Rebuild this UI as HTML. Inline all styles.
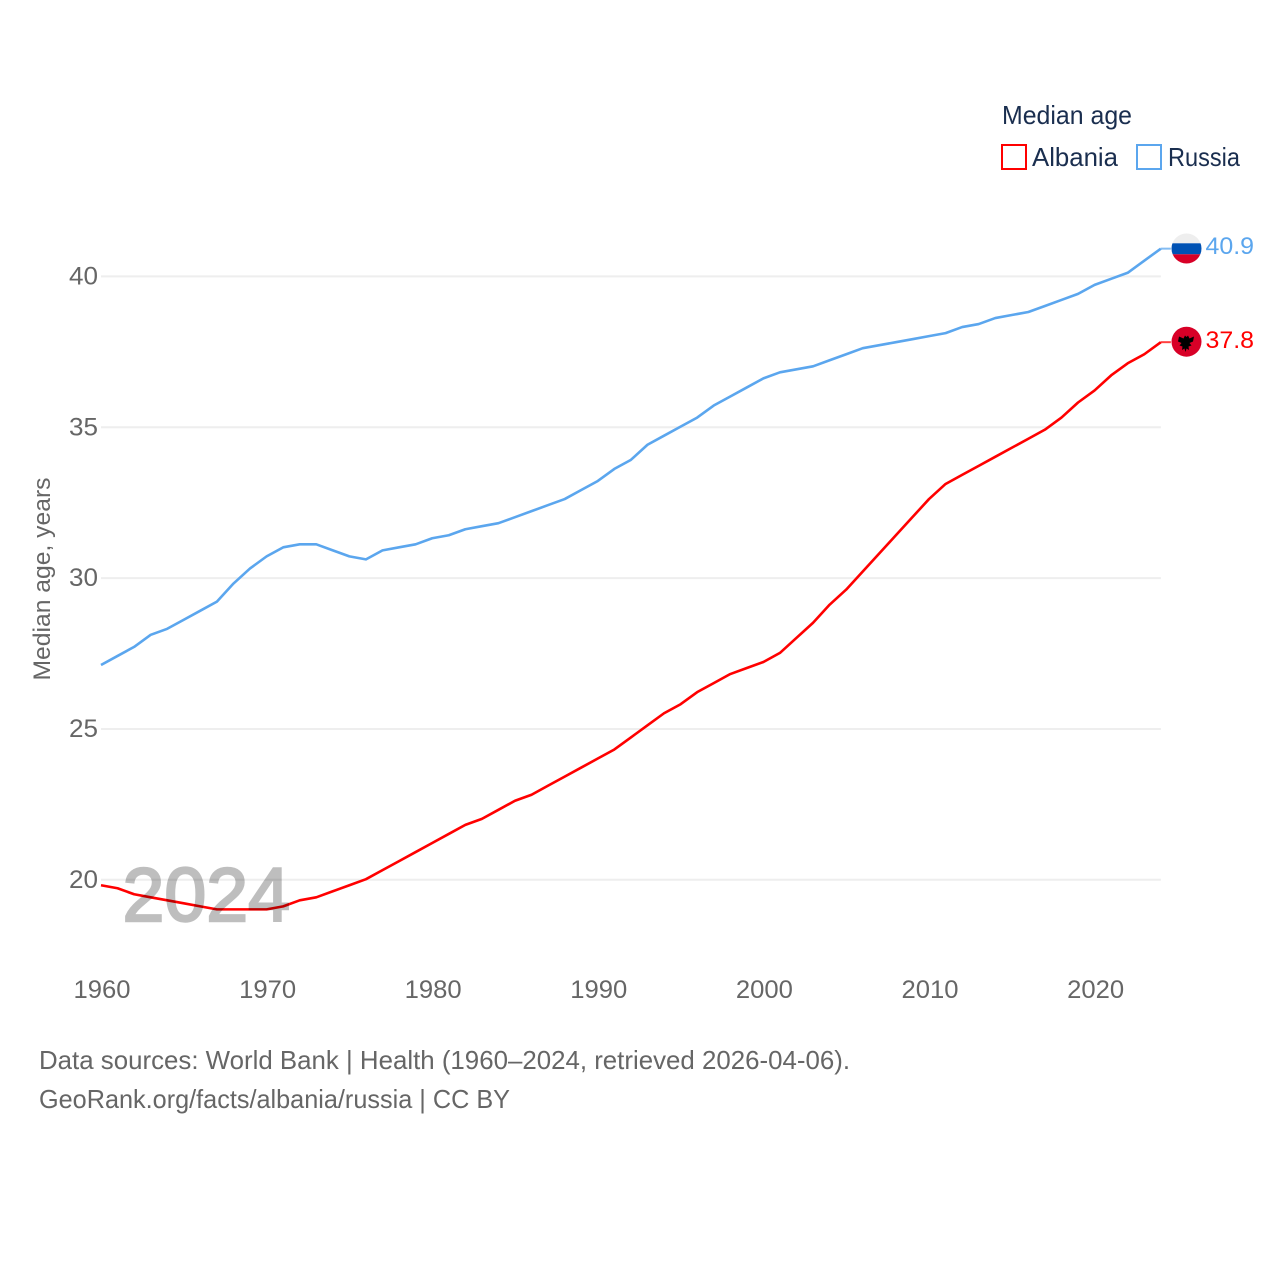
<!DOCTYPE html>
<html>
<head>
<meta charset="utf-8">
<title>Median age: Albania vs Russia</title>
<style>
html,body{margin:0;padding:0;background:#fff;}
svg{display:block;}
text{font-family:"Liberation Sans",sans-serif;}
</style>
</head>
<body>
<svg id="chart" xmlns="http://www.w3.org/2000/svg" width="1280" height="1280" viewBox="0 0 1280 1280">
  <defs>
    <clipPath id="clip-ru"><circle cx="1186.5" cy="248.5" r="15"/></clipPath>
    <clipPath id="clip-al"><circle cx="1186.5" cy="341.7" r="15"/></clipPath>
  </defs>
  <rect width="1280" height="1280" fill="#fff"/>
  <g id="grid"></g>
  <g id="y-ticks"></g>
  <g id="x-ticks"></g>
  <text transform="translate(50,579) rotate(-90)" text-anchor="middle" font-size="24" fill="#666" textLength="203" lengthAdjust="spacingAndGlyphs">Median age, years</text>
  <g id="series"></g>
  <text x="122.500" y="921" font-size="76" font-weight="400" fill="#000" stroke="#000" stroke-width="2.400" opacity="0.25" textLength="167.500" lengthAdjust="spacingAndGlyphs">2024</text>

  <g clip-path="url(#clip-ru)">
    <rect x="1170" y="232" width="33" height="11.300" fill="#eeeeee"/>
    <rect x="1170" y="243.300" width="33" height="11" fill="#0052b4"/>
    <rect x="1170" y="254.300" width="33" height="11" fill="#d80027"/>
  </g>
  <g>
    <circle cx="1186.500" cy="341.700" r="15" fill="#d80027"/>
    <path d="M1179 336.500l4.500 2 1.500-3 1.500 1.500 1.500-1.500 1.500 3 4.500-2-1 5-3.500 1.500 2 2.500-3 1 .5 3.500-2.500-1.500-1 3.500-1-3.500-2.500 1.500 .5-3.500-3-1 2-2.500-3.500-1.500z" fill="#000"/>
  </g>
  <text id="label-ru" x="1205.500" y="254" font-size="24" fill="#5ba6ee" textLength="48.500" lengthAdjust="spacingAndGlyphs">40.9</text>
  <text id="label-al" x="1205.500" y="348" font-size="24" fill="#ff0000" textLength="48.500" lengthAdjust="spacingAndGlyphs">37.8</text>

  <g>
    <text x="1002" y="124" font-size="26" fill="#1a2e4f" textLength="130" lengthAdjust="spacingAndGlyphs">Median age</text>
    <rect x="1002" y="145" width="24" height="24" fill="#fff" stroke="#ff0000" stroke-width="2"/>
    <text x="1032" y="166" font-size="26" fill="#1a2e4f" textLength="86" lengthAdjust="spacingAndGlyphs">Albania</text>
    <rect x="1137" y="145" width="24" height="24" fill="#fff" stroke="#5ba6ee" stroke-width="2"/>
    <text x="1168" y="166" font-size="26" fill="#1a2e4f" textLength="72" lengthAdjust="spacingAndGlyphs">Russia</text>
  </g>

  <g>
    <text x="39" y="1069" font-size="26" fill="#666" textLength="811" lengthAdjust="spacingAndGlyphs">Data sources: World Bank | Health (1960–2024, retrieved 2026-04-06).</text>
    <text x="39" y="1108" font-size="26" fill="#666" textLength="471" lengthAdjust="spacingAndGlyphs">GeoRank.org/facts/albania/russia | CC BY</text>
  </g>
</svg>
<script>
const years = [1960,1961,1962,1963,1964,1965,1966,1967,1968,1969,1970,1971,1972,1973,1974,1975,1976,1977,1978,1979,1980,1981,1982,1983,1984,1985,1986,1987,1988,1989,1990,1991,1992,1993,1994,1995,1996,1997,1998,1999,2000,2001,2002,2003,2004,2005,2006,2007,2008,2009,2010,2011,2012,2013,2014,2015,2016,2017,2018,2019,2020,2021,2022,2023,2024];
const russia = [27.1,27.4,27.7,28.1,28.3,28.6,28.9,29.2,29.8,30.3,30.7,31.0,31.1,31.1,30.9,30.7,30.6,30.9,31.0,31.1,31.3,31.4,31.6,31.7,31.8,32.0,32.2,32.4,32.6,32.9,33.2,33.6,33.9,34.4,34.7,35.0,35.3,35.7,36.0,36.3,36.6,36.8,36.9,37.0,37.2,37.4,37.6,37.7,37.8,37.9,38.0,38.1,38.3,38.4,38.6,38.7,38.8,39.0,39.2,39.4,39.7,39.9,40.1,40.5,40.9];
const albania = [19.8,19.7,19.5,19.4,19.3,19.2,19.1,19.0,19.0,19.0,19.0,19.1,19.3,19.4,19.6,19.8,20.0,20.3,20.6,20.9,21.2,21.5,21.8,22.0,22.3,22.6,22.8,23.1,23.4,23.7,24.0,24.3,24.7,25.1,25.5,25.8,26.2,26.5,26.8,27.0,27.2,27.5,28.0,28.5,29.1,29.6,30.2,30.8,31.4,32.0,32.6,33.1,33.4,33.7,34.0,34.3,34.6,34.9,35.3,35.8,36.2,36.7,37.1,37.4,37.8];
const yTickValues = [20,25,30,35,40];
const xTickValues = [1960,1970,1980,1990,2000,2010,2020];

const NS = 'http://www.w3.org/2000/svg';
function xScale(year){ return 101 + (year - 1960) * 16.56; }
function yScale(value){ return 879.8 - (value - 20) * 30.17; }

const grid = document.getElementById('grid');
const yTicks = document.getElementById('y-ticks');
const xTicks = document.getElementById('x-ticks');
const seriesGroup = document.getElementById('series');

yTickValues.forEach(function(v){
  const line = document.createElementNS(NS, 'line');
  
  
  line.setAttribute('x1', xScale(1960));
  line.setAttribute('x2', xScale(2024));
  line.setAttribute('y1', yScale(v));
  line.setAttribute('y2', yScale(v));
  line.setAttribute('stroke', '#eeeeee');
  line.setAttribute('stroke-width', '2');
  grid.appendChild(line);
  const t = document.createElementNS(NS, 'text');
  
  
  t.setAttribute('x', 98);
  t.setAttribute('y', yScale(v) + 8);
  t.setAttribute('text-anchor', 'end');
  t.setAttribute('font-size', '25');
  t.setAttribute('fill', '#666');
  t.setAttribute('textLength', '29');
  t.setAttribute('lengthAdjust', 'spacingAndGlyphs');
  t.textContent = v;
  yTicks.appendChild(t);
});

xTickValues.forEach(function(v){
  const t = document.createElementNS(NS, 'text');
  
  
  t.setAttribute('x', xScale(v) + 1);
  t.setAttribute('y', 998);
  t.setAttribute('text-anchor', 'middle');
  t.setAttribute('font-size', '25');
  t.setAttribute('fill', '#666');
  t.setAttribute('textLength', '57');
  t.setAttribute('lengthAdjust', 'spacingAndGlyphs');
  t.textContent = v;
  xTicks.appendChild(t);
});

function drawSeries(values, color, name){
  const pts = values.map(function(v, i){ return xScale(years[i]).toFixed(2) + ',' + (yScale(v) - 0.6).toFixed(2); });
  const poly = document.createElementNS(NS, 'polyline');
  
  
  poly.setAttribute('points', pts.join(' '));
  poly.setAttribute('fill', 'none');
  poly.setAttribute('stroke', color);
  poly.setAttribute('stroke-width', '2.6');
  poly.setAttribute('stroke-linejoin', 'round');
  seriesGroup.appendChild(poly);
  const last = values[values.length - 1];
  const stub = document.createElementNS(NS, 'line');
  
  
  stub.setAttribute('x1', xScale(years[years.length - 1]));
  stub.setAttribute('x2', xScale(years[years.length - 1]) + 10);
  stub.setAttribute('y1', yScale(last) - 0.6);
  stub.setAttribute('y2', yScale(last) - 0.6);
  stub.setAttribute('stroke', color);
  stub.setAttribute('stroke-width', '2');
  stub.setAttribute('stroke-opacity', '0.75');
  seriesGroup.appendChild(stub);
}
drawSeries(russia, '#5ba6ee', 'russia');
drawSeries(albania, '#ff0000', 'albania');

document.getElementById('label-ru').textContent = russia[russia.length - 1].toFixed(1);
document.getElementById('label-al').textContent = albania[albania.length - 1].toFixed(1);
</script>
</body>
</html>
